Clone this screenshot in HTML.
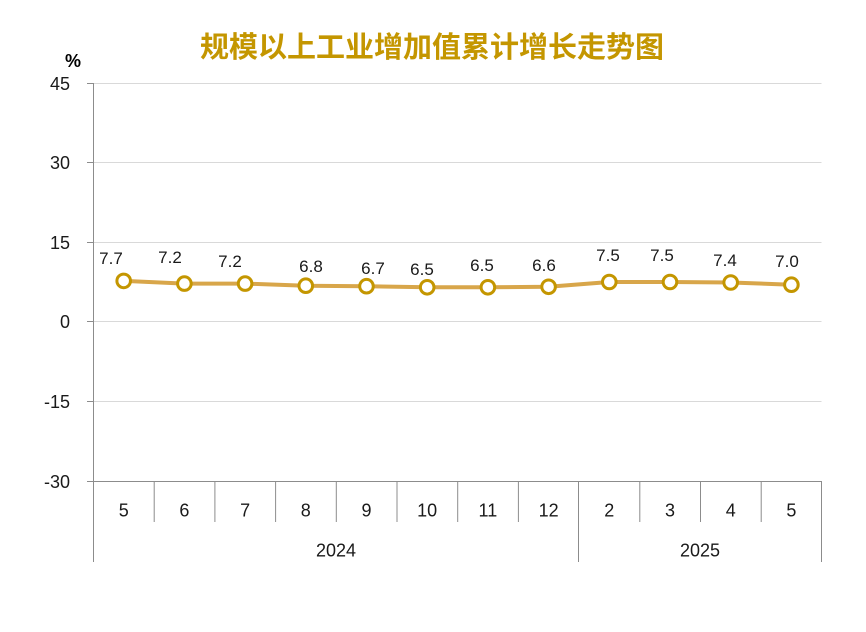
<!DOCTYPE html>
<html><head><meta charset="utf-8"><style>
html,body{margin:0;padding:0;background:#fff;}
svg{display:block;}
</style></head><body>
<svg width="866" height="632" viewBox="0 0 866 632" xmlns="http://www.w3.org/2000/svg">
<rect width="866" height="632" fill="#fff"/>
<text x="432" y="57" text-anchor="middle" font-family="'Liberation Sans','Noto Sans CJK SC',sans-serif" font-weight="bold" font-size="29" fill="#C49600">规模以上工业增加值累计增长走势图</text>
<text x="73" y="67" text-anchor="middle" font-family="'Liberation Sans',sans-serif" font-weight="bold" font-size="18" fill="#000">%</text>
<g stroke="#D9D9D9" stroke-width="1">
<line x1="93" y1="83.5" x2="821.5" y2="83.5"/>
<line x1="93" y1="162.5" x2="821.5" y2="162.5"/>
<line x1="93" y1="242.5" x2="821.5" y2="242.5"/>
<line x1="93" y1="321.5" x2="821.5" y2="321.5"/>
<line x1="93" y1="401.5" x2="821.5" y2="401.5"/>
</g>
<g stroke="#8C8C8C" stroke-width="1">
<line x1="93.5" y1="83" x2="93.5" y2="562"/>
<line x1="87" y1="83.5" x2="93" y2="83.5"/>
<line x1="87" y1="162.5" x2="93" y2="162.5"/>
<line x1="87" y1="242.5" x2="93" y2="242.5"/>
<line x1="87" y1="321.5" x2="93" y2="321.5"/>
<line x1="87" y1="401.5" x2="93" y2="401.5"/>
<line x1="87" y1="481.5" x2="821.5" y2="481.5"/>
<line x1="154.2" y1="481" x2="154.2" y2="522"/>
<line x1="214.9" y1="481" x2="214.9" y2="522"/>
<line x1="275.6" y1="481" x2="275.6" y2="522"/>
<line x1="336.3" y1="481" x2="336.3" y2="522"/>
<line x1="397" y1="481" x2="397" y2="522"/>
<line x1="457.7" y1="481" x2="457.7" y2="522"/>
<line x1="518.4" y1="481" x2="518.4" y2="522"/>
<line x1="578.5" y1="481" x2="578.5" y2="562"/>
<line x1="639.8" y1="481" x2="639.8" y2="522"/>
<line x1="700.5" y1="481" x2="700.5" y2="522"/>
<line x1="761.2" y1="481" x2="761.2" y2="522"/>
<line x1="821.5" y1="481" x2="821.5" y2="562"/>
</g>
<g font-family="'Liberation Sans',sans-serif" font-size="18" fill="#1a1a1a" text-anchor="end">
<text x="70" y="90">45</text>
<text x="70" y="169">30</text>
<text x="70" y="249">15</text>
<text x="70" y="328">0</text>
<text x="70" y="408">-15</text>
<text x="70" y="488">-30</text>
</g>
<g font-family="'Liberation Sans',sans-serif" font-size="18" fill="#1a1a1a" text-anchor="middle">
<text x="123.7" y="516.5">5</text>
<text x="184.4" y="516.5">6</text>
<text x="245.1" y="516.5">7</text>
<text x="305.8" y="516.5">8</text>
<text x="366.5" y="516.5">9</text>
<text x="427.2" y="516.5">10</text>
<text x="487.9" y="516.5">11</text>
<text x="548.6" y="516.5">12</text>
<text x="609.3" y="516.5">2</text>
<text x="670" y="516.5">3</text>
<text x="730.7" y="516.5">4</text>
<text x="791.4" y="516.5">5</text>
<text x="336" y="556.5">2024</text>
<text x="700" y="556.5">2025</text>
</g>
<polyline fill="none" stroke="#D8A64A" stroke-width="4" stroke-linejoin="round" points="123.7,280.9 184.4,283.6 245.1,283.6 305.8,285.7 366.5,286.2 427.2,287.3 487.9,287.3 548.6,286.8 609.3,282.0 670,282.0 730.7,282.5 791.4,284.7"/>
<g fill="#fff" stroke="#C49600" stroke-width="3">
<circle cx="123.7" cy="280.9" r="6.8"/>
<circle cx="184.4" cy="283.6" r="6.8"/>
<circle cx="245.1" cy="283.6" r="6.8"/>
<circle cx="305.8" cy="285.7" r="6.8"/>
<circle cx="366.5" cy="286.2" r="6.8"/>
<circle cx="427.2" cy="287.3" r="6.8"/>
<circle cx="487.9" cy="287.3" r="6.8"/>
<circle cx="548.6" cy="286.8" r="6.8"/>
<circle cx="609.3" cy="282.0" r="6.8"/>
<circle cx="670" cy="282.0" r="6.8"/>
<circle cx="730.7" cy="282.5" r="6.8"/>
<circle cx="791.4" cy="284.7" r="6.8"/>
</g>
<g font-family="'Liberation Sans',sans-serif" font-size="17" fill="#1a1a1a" text-anchor="middle">
<text x="111" y="264">7.7</text>
<text x="170" y="263">7.2</text>
<text x="230" y="267">7.2</text>
<text x="311" y="272">6.8</text>
<text x="373" y="274">6.7</text>
<text x="422" y="275">6.5</text>
<text x="482" y="271">6.5</text>
<text x="544" y="271">6.6</text>
<text x="608" y="261">7.5</text>
<text x="662" y="261">7.5</text>
<text x="725" y="266">7.4</text>
<text x="787" y="267">7.0</text>
</g>
</svg>
</body></html>
